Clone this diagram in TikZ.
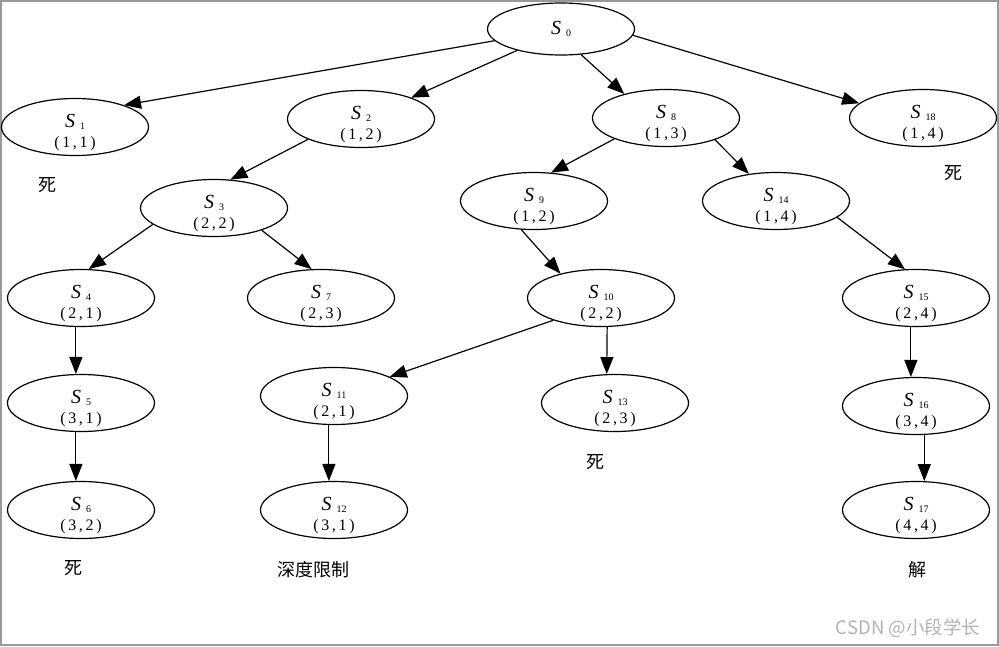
\documentclass[tikz,border=0pt]{standalone}
\usepackage{fontspec}
\setmainfont{Liberation Serif}
\newfontfamily\cjk{Noto Sans CJK SC}
\usetikzlibrary{shapes.geometric,arrows.meta}
\tikzset{
  st/.style={ellipse,draw,line width=1.2pt,minimum width=147pt,minimum height=57pt,inner sep=0pt},
  sname/.style={inner sep=0pt,font=\fontsize{20}{20}\selectfont},
  spair/.style={inner sep=0pt,font=\fontsize{16}{16}\selectfont},
  arr/.style={line width=1.2pt,-{Triangle[length=17pt,width=13pt]}},
  cn/.style={inner sep=0pt,font=\cjk\fontsize{18}{18}\selectfont},
  wm/.style={inner sep=0pt,font=\cjk\fontsize{18.5}{18.5}\selectfont,text=black!30},
}
\newcommand\stnode[5]{%
  \node[st] (#1) at (#2) {};
  \node[sname] (#1n) at ([yshift=5pt]#1.center) {\textit{S}\hspace{5pt}\raisebox{-1.5pt}{\fontsize{10}{10}\selectfont #3}};
  \node[spair] (#1p) at ([yshift=-17pt]#1.center) {(\,#4\,,\,#5\,)};}
\begin{document}
\begin{tikzpicture}[x=1pt,y=-1pt]
\useasboundingbox (0,0) rectangle (999,646);
\draw[line width=2pt,black!40] (1,1) rectangle (998,645);
% root
\node[st,minimum height=52pt] (s0) at (561,29) {};
\node[sname] (s0n) at (s0.center) {\textit{S}\hspace{5pt}\raisebox{-1.5pt}{\fontsize{10}{10}\selectfont 0}};
\stnode{s1}{75,127}{1}{1}{1}
\stnode{s2}{361,119}{2}{1}{2}
\stnode{s8}{666,118}{8}{1}{3}
\stnode{s18}{923,118}{18}{1}{4}
\stnode{s3}{214,208}{3}{2}{2}
\stnode{s9}{534,201}{9}{1}{2}
\stnode{s14}{776,201}{14}{1}{4}
\stnode{s4}{81,298}{4}{2}{1}
\stnode{s7}{321,298}{7}{2}{3}
\stnode{s10}{601,298}{10}{2}{2}
\stnode{s15}{916,298}{15}{2}{4}
\stnode{s5}{81,403}{5}{3}{1}
\stnode{s11}{334,396}{11}{2}{1}
\stnode{s13}{615,403}{13}{2}{3}
\stnode{s16}{916,406}{16}{3}{4}
\stnode{s6}{81,510}{6}{3}{2}
\stnode{s12}{334,510}{12}{3}{1}
\stnode{s17}{916,510}{17}{4}{4}
% edges
\draw[arr] (s0.190) -- (s1.24);
\draw[arr] (s0.206) -- (s2.23);
\draw[arr] (s0.308) -- (s8.150);
\draw[arr] (s0.355) -- (s18.167);
\draw[arr] (s2.201) -- (s3.60);
\draw[arr] (s3.195) -- (s4.75);
\draw[arr] (s3.335) -- (s7.108);
\draw[arr] (s4.260) -- (s5.100);
\draw[arr] (s5.260) -- (s6.100);
\draw[arr] (s8.202) -- (s9.59);
\draw[arr] (s8.336) -- (s14.135);
\draw[arr] (s9.246) -- (s10.149);
\draw[arr] (s10.205) -- (s11.19);
\draw[arr] (s10.282) -- (s13.106);
\draw[arr] (s11.260) -- (s12.100);
\draw[arr] (s14.345) -- (s15.111);
\draw[arr] (s15.260) -- (s16.100);
\draw[arr] (s16.286) -- (s17.74);
% labels
\node[cn] (d1) at (47,185) {死};
\node[cn] (d18) at (953,173) {死};
\node[cn] (d13) at (595,462) {死};
\node[cn] (d6) at (73,568) {死};
\node[cn] (lim) at (313,570) {深度限制};
\node[cn] (sol) at (917,570) {解};
\node[wm] (wm) at (908,628) {CSDN @小段学长};
\end{tikzpicture}
\end{document}
